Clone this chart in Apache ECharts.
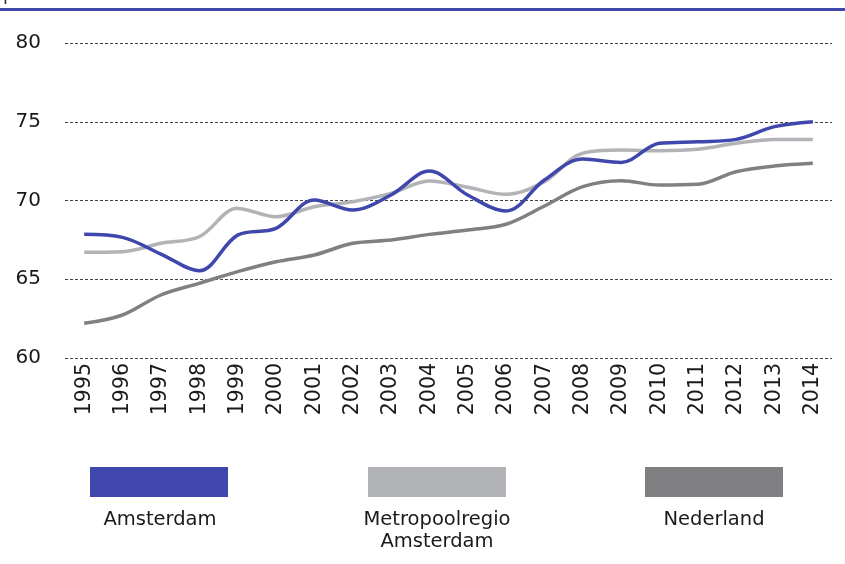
<!DOCTYPE html>
<html>
<head>
<meta charset="utf-8">
<script src="https://cdn.jsdelivr.net/npm/echarts@6/dist/echarts.min.js"></script>
<style>html,body{margin:0;padding:0;background:#fff}#c{width:845px;height:564px}</style>
</head>
<body>
<div id="c"></div>
<script>
const years = ['1995','1996','1997','1998','1999','2000','2001','2002','2003','2004','2005','2006','2007','2008','2009','2010','2011','2012','2013','2014'];
const amsterdam = [67.85,67.66,66.6,65.54,67.8,68.23,70.03,69.4,70.35,71.87,70.35,69.33,71.3,72.63,72.42,73.63,73.73,73.88,74.69,75.0];
const metropoolregio = [66.71,66.75,67.28,67.7,69.5,68.97,69.6,69.92,70.45,71.24,70.84,70.39,71.2,73.0,73.2,73.16,73.25,73.63,73.88,73.88];
const nederland = [62.2,62.73,64.0,64.74,65.48,66.11,66.54,67.28,67.49,67.85,68.13,68.49,69.65,70.88,71.26,70.98,71.03,71.83,72.19,72.36];
const seriesNames = ['Amsterdam','Metropoolregio Amsterdam','Nederland'];
const legendLabels = ['Amsterdam','Metropoolregio\nAmsterdam','Nederland'];
const colors = ['#3f46ac','#b1b3b6','#808083'];
const FONT = 'DejaVu Sans';

const chart = echarts.init(document.getElementById('c'), null, {renderer:'canvas'});
const dataSets = [amsterdam, metropoolregio, nederland];
const legendLefts = [90, 368, 645];
const legendCenters = [160, 437, 714];

chart.setOption({
  animation:false,
  textStyle:{fontFamily:FONT},
  grid:{left:65,right:13,top:43,bottom:206},
  xAxis:{
    type:'category', data:years, boundaryGap:true,
    axisLine:{show:false}, axisTick:{show:false},
    axisLabel:{rotate:90, fontSize:20.5, color:'#1a1a1a', margin:5, fontFamily:FONT, interval:0}
  },
  yAxis:{
    type:'value', min:60, max:80, interval:5,
    axisLine:{show:false}, axisTick:{show:false},
    axisLabel:{fontSize:20, color:'#1a1a1a', margin:24, fontFamily:FONT},
    splitLine:{lineStyle:{color:'#444', type:[3,2], width:1}}
  },
  legend: seriesNames.map((n,i)=>({
    data:[{name:n, icon:'rect'}], left:legendLefts[i], top:467,
    itemWidth:138, itemHeight:30, formatter:()=>'', padding:0, itemGap:0,
    selectedMode:false
  })),
  graphic:[
    {type:'rect', shape:{x:0,y:8,width:845,height:3}, style:{fill:'#3f46ac'}, silent:true},
    {type:'text', left:3, top:-14, style:{text:'p', fontSize:18, fontFamily:FONT, fill:'#333'}},
    ...legendLabels.map((t,i)=>({
      type:'text', x:legendCenters[i], y:509,
      style:{text:t, fontSize:19.5, fontFamily:FONT, fill:'#1a1a1a', align:'center', verticalAlign:'top', lineHeight:22}
    }))
  ],
  series: dataSets.map((d,i)=>({
    name:seriesNames[i], type:'line', data:d, smooth:0.35, symbol:'none',
    color:colors[i], lineStyle:{width:3.5, color:colors[i]}, z: 3-i
  }))
});
</script>
</body>
</html>
